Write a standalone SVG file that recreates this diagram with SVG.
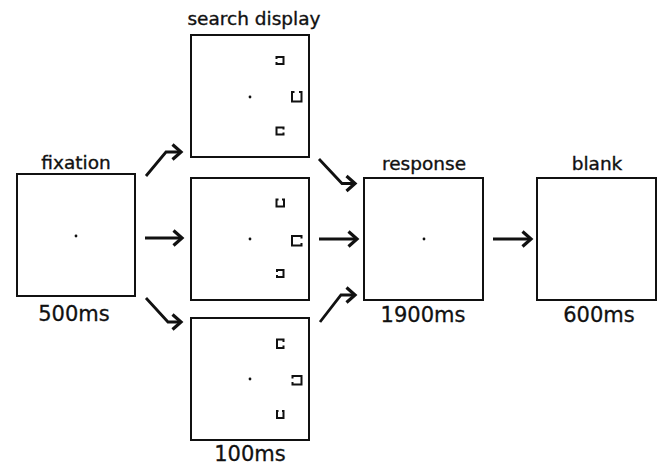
<svg xmlns="http://www.w3.org/2000/svg" width="664" height="466" viewBox="0 0 664 466">
  <style>
    .frame { fill: #ffffff; stroke: #111111; stroke-width: 2; }
    .dot { fill: #111111; }
    .stim { fill: none; stroke: #111111; stroke-width: 2; stroke-linecap: butt; stroke-linejoin: miter; }
    .label { font-family: "DejaVu Sans", Verdana, sans-serif; font-size: 18.5px; fill: #111111; stroke: #111111; stroke-width: 0.35; text-anchor: middle; }
    .time { font-family: "DejaVu Sans", Verdana, sans-serif; font-size: 21px; fill: #111111; stroke: #111111; stroke-width: 0.3; text-anchor: middle; }
    .link { fill: none; stroke: #111111; stroke-width: 2.8; stroke-linejoin: miter; marker-end: url(#chev); }
  </style>
  <defs>
    <marker id="chev" markerUnits="userSpaceOnUse" markerWidth="14" markerHeight="20" viewBox="-11 -10 14 20" refX="0" refY="0" orient="auto" overflow="visible">
      <path d="M-8.5,-7.5 L0,0 L-8.5,7.5" fill="none" stroke="#111111" stroke-width="3.2" stroke-linejoin="miter"/>
    </marker>
  </defs>
  <rect width="664" height="466" fill="#ffffff"/>

  <!-- fixation -->
  <g id="fixation">
    <text class="label" x="76" y="169">fixation</text>
    <rect class="frame" x="17" y="174" width="118" height="122"/>
    <circle class="dot" cx="76" cy="236" r="1.4"/>
    <text class="time" x="74" y="321">500ms</text>
  </g>

  <!-- search display, top frame -->
  <g id="search-top">
    <text class="label" x="254" y="25">search display</text>
    <rect class="frame" x="191" y="35" width="118" height="122"/>
    <circle class="dot" cx="250" cy="97" r="1.4"/>
    <path class="stim" d="M276.5,59 V57 H283.5 V64 H276.5 V62"/>
    <path class="stim" d="M294.5,92 H292 V101.5 H301.5 V92 H299"/>
    <path class="stim" d="M283.5,129.5 V127.5 H276.5 V134.5 H283.5 V132.5"/>
  </g>

  <!-- search display, middle frame -->
  <g id="search-middle">
    <rect class="frame" x="191" y="178" width="118" height="122"/>
    <circle class="dot" cx="250" cy="239" r="1.4"/>
    <path class="stim" d="M278.5,199.5 H276.5 V206.5 H284 V199.5 H282"/>
    <path class="stim" d="M301.5,238.5 V236 H292 V245.5 H301.5 V243"/>
    <path class="stim" d="M277,272 V270 H283.5 V277 H277 V275"/>
  </g>

  <!-- search display, bottom frame -->
  <g id="search-bottom">
    <rect class="frame" x="191" y="318" width="118" height="122"/>
    <circle class="dot" cx="250" cy="379" r="1.4"/>
    <path class="stim" d="M283.5,342 V339.5 H277 V348 H283.5 V345.5"/>
    <path class="stim" d="M292.5,378.5 V376 H301.5 V384.5 H292.5 V382"/>
    <path class="stim" d="M278.5,411 H277 V418 H283.5 V411 H282"/>
    <text class="time" x="250" y="461">100ms</text>
  </g>

  <!-- response -->
  <g id="response">
    <text class="label" x="424" y="170">response</text>
    <rect class="frame" x="364" y="178" width="119" height="122"/>
    <circle class="dot" cx="424" cy="239" r="1.4"/>
    <text class="time" x="423" y="322">1900ms</text>
  </g>

  <!-- blank -->
  <g id="blank">
    <text class="label" x="597" y="170">blank</text>
    <rect class="frame" x="537" y="178" width="119" height="122"/>
    <text class="time" x="599" y="322">600ms</text>
  </g>

  <!-- connectors -->
  <g id="connectors">
    <path class="link" d="M146,176 L166,152 L181,152"/>
    <path class="link" d="M145,238 L182,238"/>
    <path class="link" d="M146,298 L168,322 L181,322"/>
    <path class="link" d="M319,159 L342,183.5 L355,183.5"/>
    <path class="link" d="M319,239 L357,239"/>
    <path class="link" d="M320,322 L341,295 L355,295"/>
    <path class="link" d="M493,239 L531,239"/>
  </g>
</svg>
